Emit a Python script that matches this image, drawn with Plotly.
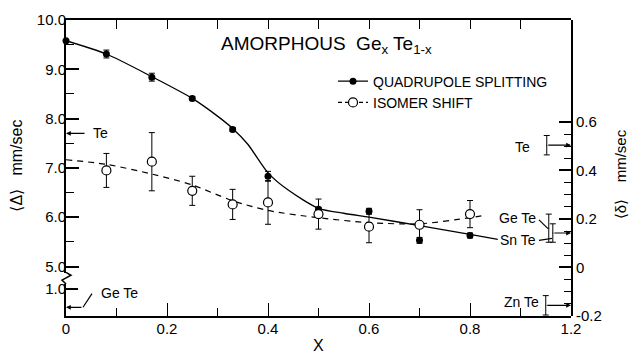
import plotly.graph_objects as go

# ---------------- data ----------------
x_qs = [0.0, 0.08, 0.17, 0.25, 0.33, 0.40, 0.50, 0.60, 0.70, 0.80]
qs = [9.58, 9.31, 8.84, 8.41, 7.78, 6.83, 6.16, 6.12, 5.53, 5.63]
qs_err = [0.0, 0.08, 0.08, 0.04, 0.04, 0.10, 0.04, 0.06, 0.06, 0.05]

x_is = [0.08, 0.17, 0.25, 0.33, 0.40, 0.50, 0.60, 0.70, 0.80]
iso = [0.40, 0.436, 0.316, 0.26, 0.268, 0.22, 0.168, 0.176, 0.22]
iso_err = [0.07, 0.12, 0.06, 0.062, 0.09, 0.062, 0.066, 0.062, 0.056]

qs_fit_x = [0.0, 0.08, 0.17, 0.25, 0.30, 0.33, 0.36, 0.40, 0.44, 0.50, 0.55, 0.60, 0.70, 0.80, 0.855]
qs_fit_y = [9.58, 9.31, 8.85, 8.41, 8.05, 7.80, 7.48, 6.90, 6.55, 6.18, 6.08, 6.00, 5.83, 5.65, 5.55]

is_fit_x = [0.0, 0.08, 0.17, 0.25, 0.33, 0.40, 0.50, 0.60, 0.70, 0.80, 0.83]
is_fit_y = [0.444, 0.425, 0.385, 0.34, 0.275, 0.235, 0.205, 0.185, 0.18, 0.205, 0.215]

ref_names = ["Te", "Ge Te", "Sn Te", "Zn Te"]
ref_x = [0.952, 0.956, 0.964, 0.950]
ref_is = [0.504, 0.162, 0.142, -0.156]
ref_is_err = [0.04, 0.058, 0.038, 0.04]

ref_qs_te = 7.70
ref_qs_gete = 0.32

x_tickvals = [0, 0.2, 0.4, 0.6, 0.8, 1.0]
x_ticktext = ["0", "0.2", "0.4", "0.6", "0.8", "1.2"]
yq_tickvals = [5, 6, 7, 8, 9, 10]
yq_ticktext = ["5.0", "6.0", "7.0", "8.0", "9.0", "10.0"]
yd_tickvals = [-0.2, 0, 0.2, 0.4, 0.6]
yd_ticktext = ["-0.2", "0", "0.2", "0.4", "0.6"]

FONT = "Liberation Sans"
K = "black"

# pixel helpers for layout placement (plot area: x 66..571, y 11..316)
def PX(p):
    return (p - 66) / 505.0

def PY(p):
    return (316 - p) / 305.0

fig = go.Figure()

# fitted / guide curves
fig.add_trace(go.Scatter(x=qs_fit_x, y=qs_fit_y, mode="lines", line=dict(color=K, width=1.3, shape="spline", smoothing=0.7),
                         xaxis="x", yaxis="y", showlegend=False, hoverinfo="skip"))
fig.add_trace(go.Scatter(x=is_fit_x, y=is_fit_y, mode="lines", line=dict(color=K, width=1.2, dash="6px,5px", shape="spline", smoothing=0.8),
                         xaxis="x", yaxis="y2", showlegend=False, hoverinfo="skip"))

# measured points
fig.add_trace(go.Scatter(x=x_qs, y=qs, mode="markers", marker=dict(color=K, size=7, symbol="circle"),
                         error_y=dict(type="data", array=qs_err, color=K, thickness=1, width=3),
                         xaxis="x", yaxis="y", showlegend=False, cliponaxis=False))
fig.add_trace(go.Scatter(x=x_is, y=iso, mode="markers",
                         marker=dict(color="white", size=9, symbol="circle", line=dict(color=K, width=1.2)),
                         error_y=dict(type="data", array=iso_err, color=K, thickness=1, width=3),
                         xaxis="x", yaxis="y2", showlegend=False))

# reference compounds (isomer shift, right axis)
fig.add_trace(go.Scatter(x=ref_x, y=ref_is, mode="markers", marker=dict(color=K, size=1),
                         error_y=dict(type="data", array=ref_is_err, color=K, thickness=1, width=3),
                         xaxis="x", yaxis="y2", showlegend=False, hoverinfo="skip"))

# legend entries
fig.add_trace(go.Scatter(x=[None], y=[None], mode="lines+markers", name="QUADRUPOLE SPLITTING",
                         line=dict(color=K, width=1.3), marker=dict(color=K, size=7), xaxis="x", yaxis="y"))
fig.add_trace(go.Scatter(x=[None], y=[None], mode="lines+markers", name="ISOMER SHIFT",
                         line=dict(color=K, width=1.2, dash="4px,3px"),
                         marker=dict(color="white", size=9, line=dict(color=K, width=1.2)), xaxis="x", yaxis="y"))

# dummy traces to create top axis and lower-left axis
fig.add_trace(go.Scatter(x=[None], y=[None], xaxis="x2", yaxis="y", showlegend=False, hoverinfo="skip"))
fig.add_trace(go.Scatter(x=[None], y=[None], xaxis="x", yaxis="y3", showlegend=False, hoverinfo="skip"))

tf = dict(family=FONT, size=15, color=K)

fig.update_layout(
    width=630, height=355,
    margin=dict(l=66, r=59, t=11, b=39),
    paper_bgcolor="white", plot_bgcolor="rgba(0,0,0,0)",
    font=dict(family=FONT, color=K),
    xaxis=dict(domain=[0, 1], range=[0, 1.0], anchor="y3", showgrid=False, zeroline=False,
               showline=True, linecolor=K, linewidth=2,
               tickmode="array", tickvals=x_tickvals, ticktext=x_ticktext,
               ticks="inside", ticklen=13, tickwidth=1.3, tickcolor=K, tickfont=tf, ticklabelstandoff=-2,
               minor=dict(tickvals=[0.1, 0.3, 0.5, 0.7, 0.9], ticks="inside", ticklen=8, tickwidth=1.3, tickcolor=K)),
    xaxis2=dict(overlaying="x", side="top", anchor="y", range=[0, 1.0], showgrid=False, zeroline=False,
                showline=True, linecolor=K, linewidth=1.5, showticklabels=False,
                tickmode="array", tickvals=[0.1, 0.2, 0.3, 0.4, 0.5, 0.6, 0.7, 0.8, 0.9],
                ticks="inside", ticklen=9, tickwidth=1.3, tickcolor=K),
    yaxis=dict(domain=[PY(272), 1], range=[4.862, 10], anchor="x", showgrid=False, zeroline=False,
               showline=True, linecolor=K, linewidth=2,
               tickmode="array", tickvals=yq_tickvals, ticktext=yq_ticktext,
               ticks="inside", ticklen=13, tickwidth=1.5, tickcolor=K, tickfont=tf, ticklabelstandoff=-5,
               minor=dict(tickvals=[5.5, 6.5, 7.5, 8.5, 9.5], ticks="inside", ticklen=8, tickwidth=1.3, tickcolor=K)),
    yaxis3=dict(domain=[0, PY(283)], range=[0, 1.179], anchor="x", showgrid=False, zeroline=False,
                showline=True, linecolor=K, linewidth=2,
                tickmode="array", tickvals=[1.0], ticktext=["1.0"],
                ticks="inside", ticklen=12, tickwidth=1.5, tickcolor=K, tickfont=tf, ticklabelstandoff=-5),
    yaxis2=dict(domain=[0, 1], range=[-0.2, 1.02], anchor="x", side="right", showgrid=False, zeroline=False,
                showline=True, linecolor=K, linewidth=2,
                tickmode="array", tickvals=yd_tickvals, ticktext=yd_ticktext,
                ticks="inside", ticklen=12, tickwidth=1.5, tickcolor=K, tickfont=tf, ticklabelstandoff=0,
                minor=dict(tickvals=[-0.15, -0.1, -0.05, 0.05, 0.1, 0.15, 0.25, 0.3, 0.35, 0.45, 0.5, 0.55],
                           ticks="inside", ticklen=7, tickwidth=1.3, tickcolor=K)),
    legend=dict(x=PX(333), y=PY(58), xanchor="left", yanchor="top", bgcolor="rgba(0,0,0,0)",
                font=dict(family=FONT, size=14, color=K), tracegroupgap=0, itemwidth=30),
    showlegend=True,
)

ann = []
# title
ann.append(dict(xref="paper", yref="paper", x=PX(219), y=PY(37), xanchor="left", yanchor="middle",
                text="AMORPHOUS  Ge<sub>x</sub> Te<sub>1-x</sub>", showarrow=False,
                font=dict(family=FONT, size=19, color=K)))
# axis titles
ann.append(dict(xref="paper", yref="paper", x=PX(17), y=PY(161), xanchor="center", yanchor="middle",
                text="⟨Δ⟩   mm/sec", textangle=-90, showarrow=False, font=dict(family=FONT, size=16, color=K)))
ann.append(dict(xref="paper", yref="paper", x=PX(620), y=PY(170), xanchor="center", yanchor="middle",
                text="⟨δ⟩    mm/sec", textangle=-90, showarrow=False, font=dict(family=FONT, size=15, color=K)))
ann.append(dict(xref="paper", yref="paper", x=PX(318), y=PY(346), xanchor="center", yanchor="middle",
                text="X", showarrow=False, font=dict(family=FONT, size=16, color=K)))

lf = dict(family=FONT, size=14, color=K)
# left reference arrows (quadrupole splitting)
ann.append(dict(x=0, y=ref_qs_te, xref="x", yref="y", ax=PX(86), ay=ref_qs_te, axref="x", ayref="y",
                showarrow=True, arrowhead=2, arrowsize=0.8, arrowwidth=1.2, arrowcolor=K, text="", standoff=0))
ann.append(dict(x=PX(91), y=ref_qs_te, xref="x", yref="y", xanchor="left", yanchor="middle",
                text="Te", showarrow=False, font=lf))
ann.append(dict(x=0, y=ref_qs_gete, xref="x", yref="y3", ax=PX(83), ay=ref_qs_gete, axref="x", ayref="y3",
                showarrow=True, arrowhead=2, arrowsize=0.8, arrowwidth=1.2, arrowcolor=K, text="", standoff=0))
ann.append(dict(x=PX(99), y=(316 - 292) / 28.0, xref="x", yref="y3", xanchor="left", yanchor="middle",
                text="Ge Te", showarrow=False, font=lf))

# right reference labels
lbl_pos = {"Te": (532, 142), "Ge Te": (538, 215), "Sn Te": (538, 238), "Zn Te": (541, 302)}
for n in ref_names:
    px, py = lbl_pos[n]
    ann.append(dict(xref="paper", yref="paper", x=PX(px), y=PY(py), xanchor="right", yanchor="middle",
                    text=n, showarrow=False, font=lf))
# right arrows from the reference bars to the axis
for n, xv, yv in zip(ref_names, ref_x, ref_is):
    if n == "Ge Te":
        continue
    ann.append(dict(x=1.0, y=yv, xref="x", yref="y2", ax=xv, ay=yv, axref="x", ayref="y2",
                    showarrow=True, arrowhead=2, arrowsize=0.8, arrowwidth=1.2, arrowcolor=K, text="", standoff=0))
fig.update_layout(annotations=ann)

shapes = []
# axis break zigzag on the left axis
shapes.append(dict(type="path", xref="paper", yref="paper",
                   path=f"M {PX(66)} {PY(271)} L {PX(71)} {PY(274)} L {PX(62)} {PY(279)} L {PX(66)} {PY(283)}",
                   line=dict(color=K, width=1.5)))
# leader lines
shapes.append(dict(type="line", xref="paper", yref="paper", x0=PX(83), y0=PY(307), x1=PX(92), y1=PY(293),
                   line=dict(color=K, width=1.2)))
shapes.append(dict(type="line", xref="paper", yref="paper", x0=PX(539), y0=PY(217), x1=PX(548), y1=PY(226),
                   line=dict(color=K, width=1.2)))
shapes.append(dict(type="line", xref="paper", yref="paper", x0=PX(539), y0=PY(238), x1=PX(552), y1=PY(236),
                   line=dict(color=K, width=1.2)))
fig.update_layout(shapes=shapes)

fig.write_html("out.html")
